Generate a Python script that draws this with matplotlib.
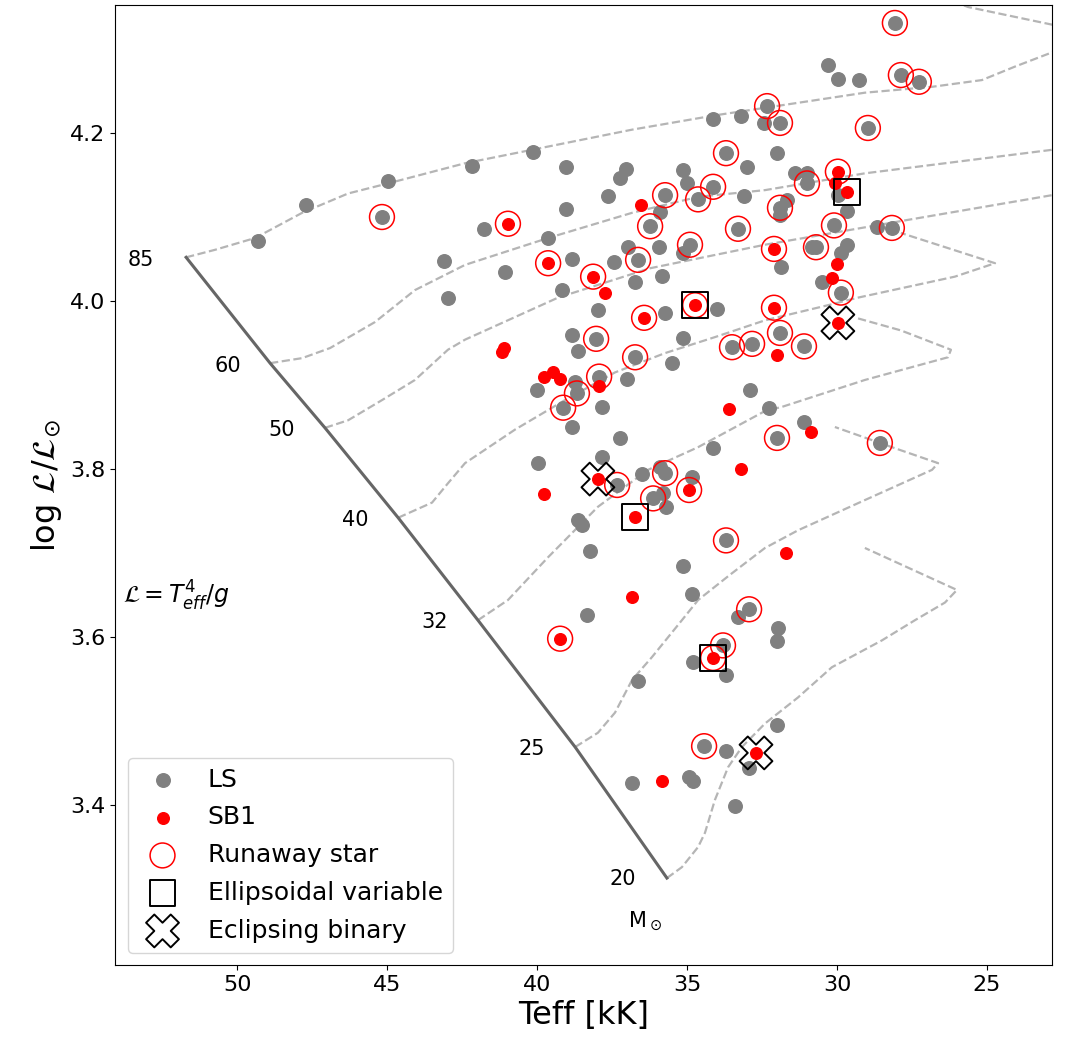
import matplotlib
matplotlib.use('Agg')
import matplotlib.pyplot as plt

# LS sample (grey dots)
ls_teff = [49.30, 47.70, 44.97, 45.17, 43.10, 42.97, 42.17, 40.13, 39.03, 37.03,
           37.23, 37.63, 39.03, 41.77, 35.13, 35.00, 35.73, 35.90, 36.23, 34.63,
           34.13, 33.70, 34.13, 33.20, 32.33, 32.43, 33.00, 33.10, 33.30, 34.90,
           35.13, 35.93, 36.97, 36.63, 37.43, 38.83, 39.63, 41.07, 39.17, 36.73,
           35.83, 28.07, 30.30, 29.97, 29.27, 27.87, 27.27, 31.90, 28.97, 32.00,
           31.40, 31.00, 31.00, 29.97, 29.67, 31.67, 31.90, 31.90, 30.10, 28.67,
           28.17, 30.70, 30.83, 29.67, 29.87, 31.87, 30.50, 29.87, 37.97, 35.73,
           34.00, 38.83, 38.03, 38.63, 35.13, 36.73, 35.50, 33.50, 32.83, 40.00,
           38.73, 38.67, 37.93, 37.00, 39.13, 37.83, 38.83, 37.23, 32.90, 32.27,
           31.90, 31.10, 31.10, 32.00, 28.57, 34.13, 39.97, 37.83, 37.33, 36.50,
           35.73, 35.90, 34.83, 36.13, 35.80, 35.70, 38.63, 38.50, 38.23, 33.70,
           35.13, 34.83, 38.33, 33.30, 32.93, 33.80, 34.80, 33.70, 36.63, 34.43,
           33.70, 32.93, 36.83, 34.93, 34.80, 33.40, 31.97, 32.00, 32.00]
ls_logl = [4.071, 4.114, 4.143, 4.100, 4.048, 4.004, 4.161, 4.177, 4.160, 4.157,
           4.146, 4.125, 4.110, 4.086, 4.156, 4.140, 4.126, 4.106, 4.089, 4.121,
           4.136, 4.176, 4.217, 4.220, 4.232, 4.212, 4.160, 4.125, 4.086, 4.067,
           4.057, 4.064, 4.064, 4.049, 4.046, 4.050, 4.075, 4.035, 4.013, 4.023,
           4.030, 4.331, 4.281, 4.264, 4.263, 4.269, 4.261, 4.212, 4.206, 4.176,
           4.152, 4.152, 4.140, 4.126, 4.107, 4.120, 4.111, 4.102, 4.090, 4.088,
           4.087, 4.064, 4.064, 4.067, 4.057, 4.040, 4.023, 4.010, 3.989, 3.986,
           3.990, 3.960, 3.955, 3.940, 3.956, 3.933, 3.926, 3.945, 3.949, 3.894,
           3.904, 3.890, 3.910, 3.907, 3.873, 3.874, 3.850, 3.837, 3.894, 3.873,
           3.962, 3.946, 3.856, 3.837, 3.831, 3.825, 3.807, 3.814, 3.781, 3.794,
           3.795, 3.802, 3.790, 3.765, 3.771, 3.755, 3.739, 3.733, 3.702, 3.715,
           3.685, 3.651, 3.626, 3.624, 3.633, 3.590, 3.570, 3.555, 3.548, 3.470,
           3.464, 3.444, 3.426, 3.433, 3.429, 3.399, 3.611, 3.595, 3.495]

# SB1 (red dots)
sb1_teff = [40.97, 36.53, 39.63, 38.13, 37.73, 34.73, 29.97, 30.07, 29.67, 32.10,
            30.00, 30.17, 32.10, 36.43, 29.97, 32.00, 41.10, 41.17, 39.77, 39.47,
            39.23, 37.93, 33.60, 30.87, 33.20, 37.97, 34.93, 39.77, 36.73, 31.70,
            36.83, 39.23, 34.13, 32.70, 35.83]
sb1_logl = [4.092, 4.114, 4.045, 4.029, 4.010, 3.995, 4.154, 4.140, 4.130, 4.062,
            4.044, 4.027, 3.992, 3.980, 3.974, 3.936, 3.944, 3.939, 3.910, 3.915,
            3.907, 3.899, 3.871, 3.844, 3.800, 3.788, 3.775, 3.770, 3.743, 3.700,
            3.648, 3.598, 3.575, 3.462, 3.429]

# runaway stars (red rings)
run_teff = [45.17, 35.73, 36.23, 34.63, 34.13, 33.70, 32.33, 33.30, 34.90, 36.63,
            28.07, 27.87, 27.27, 31.90, 28.97, 31.00, 31.90, 30.10, 28.17, 30.70,
            29.87, 38.03, 36.73, 33.50, 32.83, 38.67, 37.93, 39.13, 31.90, 31.10,
            32.00, 28.57, 37.33, 35.73, 36.13, 33.70, 32.93, 33.80, 34.43,
            40.97, 39.63, 38.13, 34.73, 29.97, 32.10, 32.10, 36.43, 34.93, 39.23, 34.13]
run_logl = [4.100, 4.126, 4.089, 4.121, 4.136, 4.176, 4.232, 4.086, 4.067, 4.049,
            4.331, 4.269, 4.261, 4.212, 4.206, 4.140, 4.111, 4.090, 4.087, 4.064,
            4.010, 3.955, 3.933, 3.945, 3.949, 3.890, 3.910, 3.873, 3.962, 3.946,
            3.837, 3.831, 3.781, 3.795, 3.765, 3.715, 3.633, 3.590, 3.470,
            4.092, 4.045, 4.029, 3.995, 4.154, 4.062, 3.992, 3.980, 3.775, 3.598, 3.575]

# ellipsoidal variables / eclipsing binaries
ell_teff = [34.73, 29.67, 36.73, 34.13]
ell_logl = [3.995, 4.130, 3.743, 3.575]
ecl_teff = [29.97, 37.97, 32.70]
ecl_logl = [3.974, 3.788, 3.462]

# evolutionary tracks
trk85_teff = [51.70, 50.73, 49.40, 47.83, 46.30, 44.97, 42.40, 40.17, 36.83, 34.07,
              32.40, 29.07, 26.83, 25.17, 24.07, 22.83, 22.23]
trk85_logl = [4.052, 4.061, 4.075, 4.105, 4.128, 4.140, 4.164, 4.180, 4.204, 4.221,
              4.230, 4.248, 4.255, 4.263, 4.279, 4.296, 4.305]
trktop_teff = [26.13, 25.63, 22.83, 22.23]
trktop_logl = [4.357, 4.350, 4.329, 4.324]
trk60_teff = [48.90, 47.83, 46.90, 45.40, 44.07, 42.40, 39.63, 36.83, 34.63, 32.40,
              29.07, 22.83, 22.23]
trk60_logl = [3.926, 3.932, 3.944, 3.975, 4.013, 4.043, 4.075, 4.105, 4.124, 4.132,
              4.152, 4.180, 4.182]
trk50_teff = [47.07, 46.30, 45.17, 44.07, 42.97, 42.40, 39.30, 36.23, 32.40, 27.73,
              22.83, 22.23]
trk50_logl = [3.849, 3.858, 3.882, 3.906, 3.942, 3.954, 4.004, 4.039, 4.067, 4.096,
              4.126, 4.130]
trk40_teff = [44.63, 43.50, 42.97, 42.40, 40.73, 39.07, 37.40, 35.73, 34.07, 32.40,
              30.30, 29.30, 26.07, 24.73, 27.87]
trk40_logl = [3.742, 3.760, 3.783, 3.807, 3.847, 3.882, 3.915, 3.938, 3.957, 3.977,
              3.995, 4.004, 4.029, 4.045, 4.081]
trk32_teff = [41.97, 40.97, 39.63, 37.97, 36.30, 34.63, 32.40, 31.83, 29.07, 26.30,
              26.20, 27.87, 29.37]
trk32_logl = [3.620, 3.644, 3.695, 3.755, 3.799, 3.826, 3.869, 3.874, 3.906, 3.933,
              3.942, 3.965, 3.980]
trk25_teff = [38.73, 37.97, 37.40, 36.83, 36.17, 35.17, 34.63, 33.57, 32.40, 31.30,
              29.07, 26.83, 26.63, 28.17, 30.07]
trk25_logl = [3.469, 3.486, 3.510, 3.549, 3.576, 3.620, 3.644, 3.674, 3.706, 3.727,
              3.763, 3.799, 3.807, 3.826, 3.850]
trk20_teff = [35.67, 35.17, 34.63, 34.40, 34.07, 33.63, 33.17, 32.40, 31.30, 30.17,
              28.50, 27.40, 26.40, 26.00, 29.07]
trk20_logl = [3.313, 3.326, 3.350, 3.367, 3.406, 3.445, 3.469, 3.497, 3.528, 3.564,
              3.596, 3.620, 3.641, 3.656, 3.706]

mass_labels = ['85', '60', '50', '40', '32', '25', '20']
label_teff = [53.20, 50.30, 48.53, 46.07, 43.40, 40.17, 37.13]
label_logl = [4.049, 3.923, 3.847, 3.739, 3.618, 3.467, 3.312]


def main():
    fig = plt.figure(figsize=(10.66, 10.41), dpi=100)
    ax = fig.add_axes([0.1079, 0.0730, 0.8790, 0.9222])

    tracks = [(trk85_teff, trk85_logl), (trktop_teff, trktop_logl),
              (trk60_teff, trk60_logl), (trk50_teff, trk50_logl),
              (trk40_teff, trk40_logl), (trk32_teff, trk32_logl),
              (trk25_teff, trk25_logl), (trk20_teff, trk20_logl)]
    for t, l in tracks:
        ax.plot(t, l, ls='--', color='#b5b5b5', lw=1.6, zorder=1)

    # ZAMS through the start of each track
    zams = [tracks[0]] + tracks[2:]
    ax.plot([t[0] for t, l in zams], [l[0] for t, l in zams],
            color='#666666', lw=2.2, zorder=2)

    for lab, t, l in zip(mass_labels, label_teff, label_logl):
        ax.text(t, l, lab, fontsize=15, ha='center', va='center')
    ax.text(36.40, 3.261, r'M$_\odot$', fontsize=15, ha='center', va='center')
    ax.text(0.008, 0.384, r'$\mathcal{L} = T_{eff}^4/g$', transform=ax.transAxes,
            fontsize=17, ha='left', va='center')

    ax.scatter(ls_teff, ls_logl, s=95, color='grey', zorder=3, label='LS')
    ax.scatter(sb1_teff, sb1_logl, s=70, color='red', zorder=4, label='SB1')
    ax.scatter(run_teff, run_logl, s=320, facecolors='none', edgecolors='red',
               linewidths=1.1, zorder=5, label='Runaway star')
    ax.scatter(ell_teff, ell_logl, s=340, marker='s', facecolors='none',
               edgecolors='black', linewidths=1.4, zorder=5, label='Ellipsoidal variable')
    ax.scatter(ecl_teff, ecl_logl, s=560, marker='X', facecolors='none',
               edgecolors='black', linewidths=1.4, zorder=5, label='Eclipsing binary')

    ax.set_xlim(54.07, 22.83)
    ax.set_ylim(3.2095, 4.3524)
    ax.set_xticks([50, 45, 40, 35, 30, 25])
    ax.set_yticks([3.4, 3.6, 3.8, 4.0, 4.2])
    ax.tick_params(labelsize=16)
    ax.set_xlabel('Teff [kK]', fontsize=23)
    ax.set_ylabel(r'log $\mathcal{L}/\mathcal{L}_{\odot}$', fontsize=23)

    ax.legend(loc='lower left', fontsize=18, labelspacing=0.55)

    plt.savefig('out.png', dpi=100)


if __name__ == '__main__':
    main()
